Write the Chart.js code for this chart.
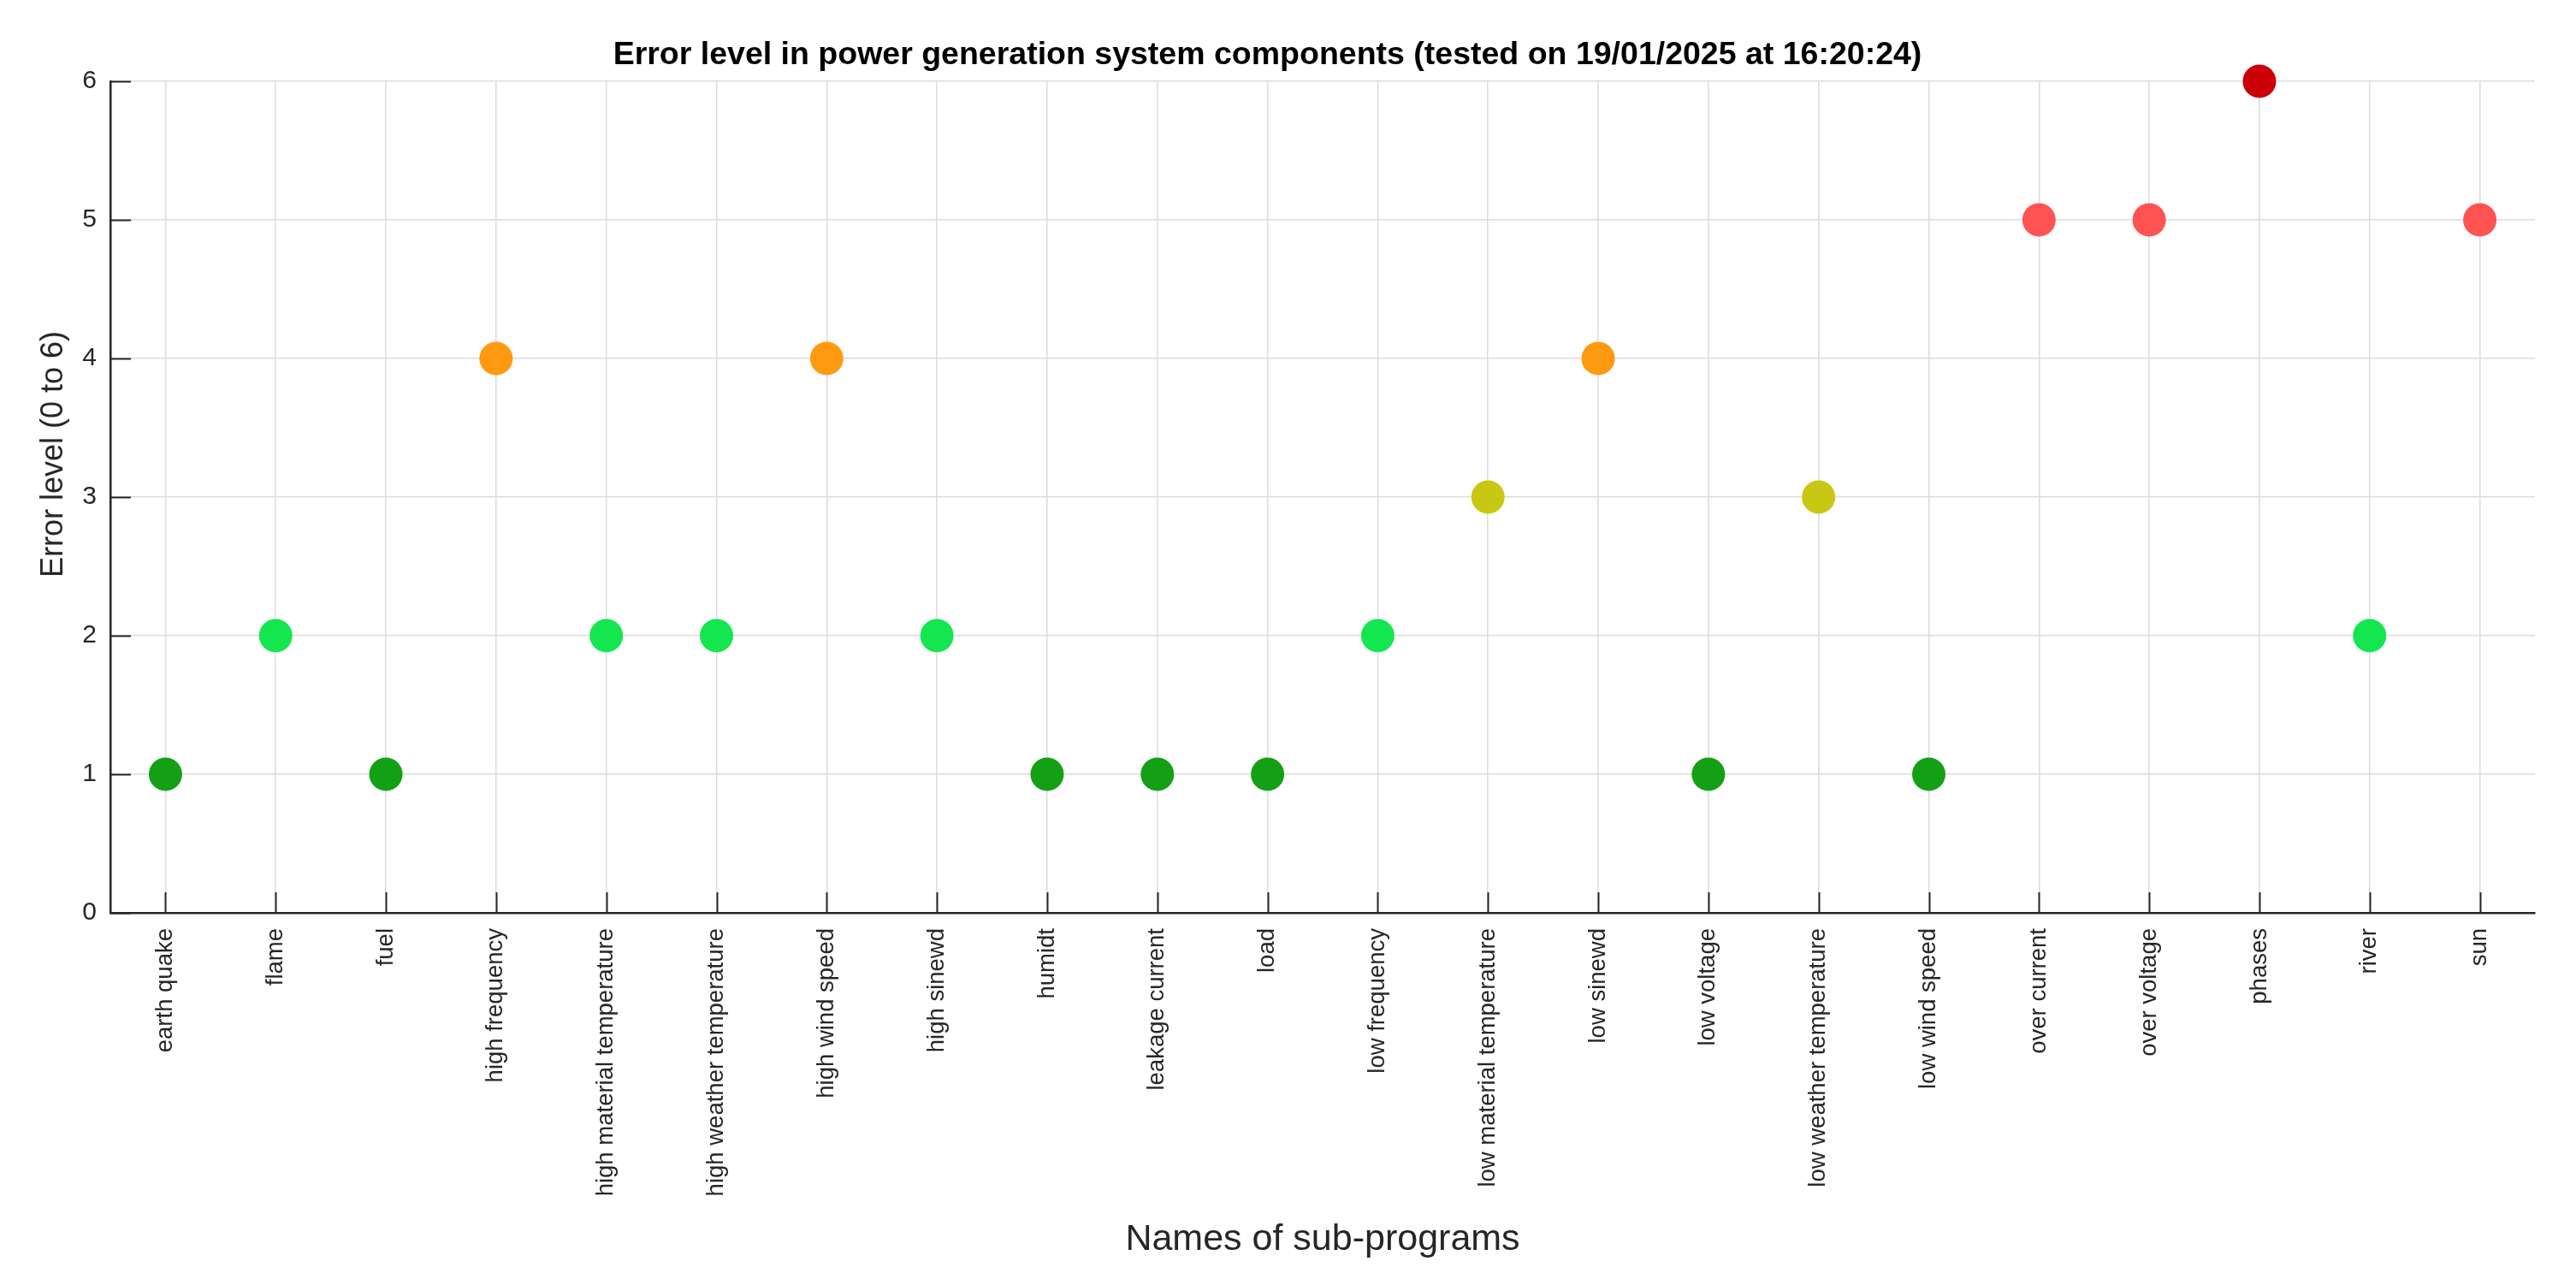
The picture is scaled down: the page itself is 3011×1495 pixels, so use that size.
<!DOCTYPE html>
<html>
<head>
<meta charset="utf-8">
<script src="https://cdn.jsdelivr.net/npm/chart.js@4/dist/chart.umd.min.js"></script>
<style>
    html, body { margin:0; padding:0; background:#fff; }
    #wrap { width:3011px; height:1495px; }
</style>
</head>
<body>
<div id="wrap"><canvas id="chartErr" width="3011" height="1495"></canvas></div>
<script>
// 데이터
const SUB_PROGRAMS = [
    'earth quake','flame','fuel','high frequency','high material temperature',
    'high weather temperature','high wind speed','high sinewd','humidt','leakage current',
    'load','low frequency','low material temperature','low sinewd','low voltage',
    'low weather temperature','low wind speed','over current','over voltage','phases',
    'river','sun'
];
const ERROR_LEVELS = [1,2,1,4,2,2,4,2,1,1,1,2,3,4,1,3,1,5,5,6,2,5];
const Y_TICKS = [0,1,2,3,4,5,6];

// 레벨별 색상
const LEVEL_COLORS = ['#ffffff','#14a014','#14e650','#c8c814','#ff9a10','#ff5252','#cc0008'];

const AXIS = '#262626';
const FONT = "'Liberation Sans', Arial, sans-serif";

// MATLAB 스타일 안쪽 눈금
const inwardTicks = {
    id: 'inwardTicks',
    afterDraw(chart) {
        const { ctx, chartArea, scales } = chart;
        const len = 24;
        ctx.save();
        ctx.strokeStyle = AXIS;
        ctx.lineWidth = 2;
        ctx.beginPath();
        scales.y.ticks.forEach((t, i) => {
            const py = Math.round(scales.y.getPixelForTick(i)) + 0.5;
            ctx.moveTo(chartArea.left, py);
            ctx.lineTo(chartArea.left + len, py);
        });
        scales.x.ticks.forEach((t, i) => {
            const px = Math.round(scales.x.getPixelForTick(i)) + 0.5;
            ctx.moveTo(px, chartArea.bottom);
            ctx.lineTo(px, chartArea.bottom - len);
        });
        ctx.stroke();
        ctx.restore();
    }
};

new Chart(document.getElementById('chartErr'), {
    type: 'line',
    data: {
        labels: SUB_PROGRAMS,
        datasets: [{
            label: 'Error level',
            data: ERROR_LEVELS,
            showLine: false,
            clip: false,
            pointRadius: 19.5,
            pointHoverRadius: 19.5,
            pointBorderWidth: 0,
            pointBackgroundColor: ERROR_LEVELS.map(v => LEVEL_COLORS[v]),
        }]
    },
    options: {
        responsive: false,
        animation: false,
        layout: { padding: { left: 0, right: 48, top: 0, bottom: 0 } },
        plugins: {
            legend: { display: false },
            tooltip: { enabled: false },
            title: {
                display: true,
                text: 'Error level in power generation system components (tested on 19/01/2025 at 16:20:24)',
                color: '#000',
                font: { family: FONT, size: 37.5, weight: 'bold' },
                padding: { top: 42, bottom: 8 }
            }
        },
        scales: {
            x: {
                offset: true,
                grid: { display: true, offset: false, drawTicks: false, color: '#dcdcdc', lineWidth: 1.5 },
                border: { display: true, color: AXIS, width: 2.5 },
                ticks: {
                    autoSkip: false, minRotation: 90, maxRotation: 90, padding: 18,
                    color: AXIS, font: { family: FONT, size: 27.5 }
                },
                title: {
                    display: true, text: 'Names of sub-programs', color: AXIS,
                    font: { family: FONT, size: 43 }, padding: { top: 0, bottom: 20 }
                },
                afterFit(scale) { scale.height = 428; }
            },
            y: {
                min: 0, max: 6,
                afterBuildTicks(scale) { scale.ticks = Y_TICKS.map(v => ({ value: v })); },
                grid: { display: true, drawTicks: false, color: '#dcdcdc', lineWidth: 1.5 },
                border: { display: true, color: AXIS, width: 2.5 },
                ticks: { padding: 16, color: AXIS, font: { family: FONT, size: 30 } },
                title: {
                    display: true, text: '          Error level (0 to 6)', color: AXIS,
                    font: { family: FONT, size: 36 }, padding: { top: 41, bottom: 0 }
                },
                afterFit(scale) { scale.width = 129; }
            }
        }
    },
    plugins: [inwardTicks]
});
</script>
</body>
</html>
